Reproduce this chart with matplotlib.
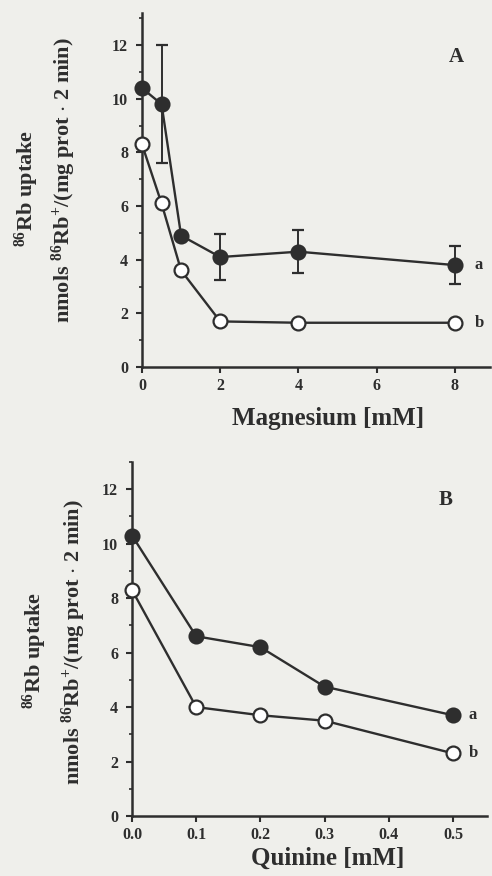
import matplotlib
matplotlib.use("Agg")
import matplotlib.pyplot as plt
from matplotlib.ticker import MultipleLocator

# Panel A: magnesium series
mg_conc = [0, 0.5, 1, 2, 4, 8]
mg_a = [10.4, 9.8, 4.9, 4.1, 4.3, 3.8]
mg_a_err = [0.0, 2.2, 0.0, 0.85, 0.8, 0.7]
mg_b = [8.3, 6.1, 3.6, 1.7, 1.65, 1.65]

# Panel B: quinine series
qn_conc = [0.0, 0.1, 0.2, 0.3, 0.5]
qn_a = [10.3, 6.6, 6.2, 4.75, 3.7]
qn_b = [8.3, 4.0, 3.7, 3.5, 2.3]

bg = "#efefeb"
ink = "#2e2e2e"
plt.rcParams["font.family"] = ["Liberation Serif", "DejaVu Serif"]
plt.rcParams["font.weight"] = "bold"
plt.rcParams["mathtext.fontset"] = "custom"
plt.rcParams["mathtext.rm"] = "Liberation Serif:bold"
plt.rcParams["mathtext.default"] = "rm"

W, H = 492, 876
fig = plt.figure(figsize=(W / 100, H / 100), dpi=100, facecolor=bg)
axA = fig.add_axes([142 / W, 1 - 367 / H, 348 / W, 354 / H])
axB = fig.add_axes([132 / W, 1 - 816 / H, 355 / W, 354 / H])


def style(ax):
    ax.set_facecolor(bg)
    for s in ("top", "right"):
        ax.spines[s].set_visible(False)
    for s in ("left", "bottom"):
        ax.spines[s].set_color(ink)
        ax.spines[s].set_linewidth(1.8)
    ax.tick_params(direction="out", length=4, width=1.5, colors=ink,
                   labelsize=11.5)
    ax.tick_params(axis="x", pad=4)
    ax.tick_params(axis="y", pad=6)
    ax.tick_params(which="minor", direction="out", length=2.5, width=1.2,
                   colors=ink)
    ax.yaxis.set_major_locator(MultipleLocator(2))
    ax.yaxis.set_minor_locator(MultipleLocator(1))


def series(ax, x, y, filled, yerr=None):
    face = ink if filled else "white"
    ax.errorbar(x, y, yerr=yerr, color=ink, lw=1.7, marker="o", ms=10,
                mfc=face, mec=ink, mew=1.6, capsize=4, elinewidth=1.4,
                clip_on=False, zorder=3)


# Magnesium
style(axA)
series(axA, mg_conc, mg_b, False)
series(axA, mg_conc, mg_a, True, yerr=mg_a_err)
axA.set_xlim(0, 8.9)
axA.set_ylim(0, 13.2)
axA.set_xticks([0, 2, 4, 6, 8])
axA.set_yticks(range(0, 13, 2))
axA.text(8.5, mg_a[-1], "a", fontsize=12, color=ink, va="center")
axA.text(8.5, mg_b[-1], "b", fontsize=12, color=ink, va="center")
axA.text(8.05, 11.55, "A", fontsize=15, color=ink, ha="center", va="center")

# Quinine
style(axB)
series(axB, qn_conc, qn_b, False)
series(axB, qn_conc, qn_a, True)
axB.set_xlim(0, 0.553)
axB.set_ylim(0, 13)
axB.set_xticks([0.0, 0.1, 0.2, 0.3, 0.4, 0.5])
axB.set_xticklabels(["0.0", "0.1", "0.2", "0.3", "0.4", "0.5"])
axB.set_yticks(range(0, 13, 2))
axB.text(0.524, qn_a[-1], "a", fontsize=12, color=ink, va="center")
axB.text(0.524, qn_b[-1], "b", fontsize=12, color=ink, va="center")
axB.text(0.488, 11.6, "B", fontsize=15, color=ink, ha="center", va="center")

for ax in (axA, axB):
    for lab in ax.get_xticklabels() + ax.get_yticklabels():
        lab.set_fontweight("bold")

# x axis titles
fig.text(328 / W, 1 - 419 / H, "Magnesium [mM]", ha="center", va="center",
         fontsize=18, fontweight="bold", color=ink)
fig.text(328 / W, 1 - 858 / H, "Quinine [mM]", ha="center", va="center",
         fontsize=18, fontweight="bold", color=ink)

# Two-line y labels
line1 = r"$^{86}$Rb uptake"
line2 = r"nmols $^{86}$Rb$^{+}$/(mg prot $\cdot$ 2 min)"
for x1, x2, yc1, yc2 in [(27, 64, 188, 180), (35, 74, 650, 642)]:
    fig.text(x1 / W, 1 - yc1 / H, line1, rotation=90, ha="center",
             va="center", fontsize=16, fontweight="bold", color=ink)
    fig.text(x2 / W, 1 - yc2 / H, line2, rotation=90, ha="center",
             va="center", fontsize=16, fontweight="bold", color=ink)

fig.savefig("out.png", dpi=100, facecolor=bg)
